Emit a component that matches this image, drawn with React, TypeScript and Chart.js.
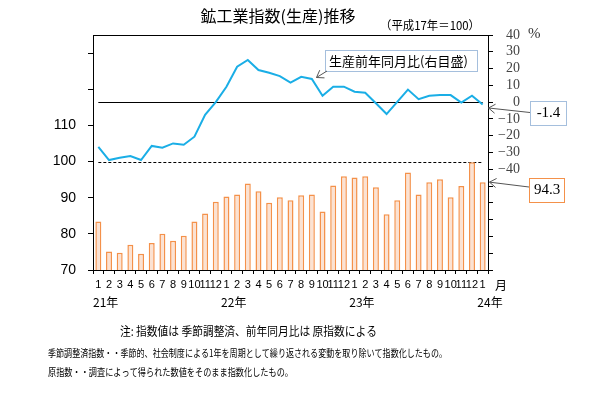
import React, { useEffect, useRef } from 'react';
import { Chart, registerables } from 'chart.js';

Chart.register(...registerables);

// ---- Data ----
const monthLabels = [
  '1', '2', '3', '4', '5', '6', '7', '8', '9', '10', '11', '12',
  '1', '2', '3', '4', '5', '6', '7', '8', '9', '10', '11', '12',
  '1', '2', '3', '4', '5', '6', '7', '8', '9', '10', '11', '12',
  '1',
];
const yearLabels = ['21年', '22年', '23年', '24年'];
const yearStartIndex = [0, 12, 24, 36];

// 鉱工業生産指数 (季節調整済, 平成17年=100) - left axis
const productionIndex = [
  83.4, 75.1, 74.8, 77.0, 74.5, 77.5, 80.0, 78.1, 79.5, 83.4, 85.6, 88.9,
  90.3, 90.9, 93.9, 91.8, 88.6, 90.1, 89.3, 90.7, 90.9, 86.2, 93.4, 95.9,
  95.6, 95.9, 92.9, 85.4, 89.3, 97.0, 90.9, 94.3, 95.1, 90.1, 93.2, 99.8,
  94.3,
];

// 生産前年同月比 (%) - right axis
const yoyChange = [
  -26.7, -34.5, -33.1, -32.1, -34.5, -26.1, -27.2, -24.6, -25.4, -20.6, -7.5, 0.0,
  9.2, 21.1, 25.1, 19.1, 17.5, 15.5, 11.6, 15.1, 13.8, 3.8, 9.2, 9.2,
  6.2, 5.6, -0.7, -7.1, 0.2, 7.5, 1.8, 3.8, 4.2, 4.2, -0.3, 3.8,
  -1.4,
];

const baseIndexValue = 100; // 平成17年 = 100 (dashed reference)
const zeroChange = 0; // 0% reference line

const titleText = '鉱工業指数(生産)推移';
const subTitleText = '（平成17年＝100）';
const legendText = '生産前年同月比(右目盛)';
const noteLine1 = '注: 指数値は 季節調整済、前年同月比は 原指数による';
const noteLine2 = '季節調整済指数・・季節的、社会制度による1年を周期として繰り返される変動を取り除いて指数化したもの。';
const noteLine3 = '原指数・・調査によって得られた数値をそのまま指数化したもの。';

const CJK = '"Noto Sans CJK JP", "Noto Sans", sans-serif';
const SERIF = '"Liberation Serif", "DejaVu Serif", serif';
const SANS = '"Liberation Sans", Arial, sans-serif';

const LINE_COLOR = '#1AAEE6';
const BAR_BORDER = '#F4914A';
const BAR_FILL = '#FBE2D3';
const BOX_BLUE = '#4A7EBB';

function drawArrow(ctx: CanvasRenderingContext2D, fx: number, fy: number, tx: number, ty: number) {
  const ang = Math.atan2(ty - fy, tx - fx);
  const len = 8;
  ctx.save();
  ctx.strokeStyle = '#555';
  ctx.lineWidth = 1;
  ctx.beginPath();
  ctx.moveTo(fx, fy);
  ctx.lineTo(tx, ty);
  ctx.moveTo(tx - len * Math.cos(ang - 0.6), ty - len * Math.sin(ang - 0.6));
  ctx.lineTo(tx, ty);
  ctx.lineTo(tx - len * Math.cos(ang + 0.6), ty - len * Math.sin(ang + 0.6));
  ctx.stroke();
  ctx.restore();
}

function drawBox(ctx: CanvasRenderingContext2D, x: number, y: number, w: number, h: number, color: string, dotted: boolean) {
  ctx.save();
  ctx.fillStyle = '#fff';
  ctx.fillRect(x, y, w, h);
  ctx.strokeStyle = color;
  ctx.lineWidth = 1;
  if (dotted) ctx.setLineDash([1, 1]);
  ctx.strokeRect(x + 0.5, y + 0.5, w, h);
  ctx.restore();
}

const overlayPlugin = {
  id: 'overlay',
  beforeDatasetsDraw(chart: any) {
    const { ctx, scales } = chart;
    const xs = scales.x;
    const xStart = xs.getPixelForValue(0);
    const xEnd = xs.getPixelForValue(monthLabels.length - 1);
    ctx.save();
    ctx.strokeStyle = '#000';
    ctx.lineWidth = 1;
    const yZero = Math.round(scales.y1.getPixelForValue(zeroChange)) + 0.5;
    ctx.beginPath();
    ctx.moveTo(xStart, yZero);
    ctx.lineTo(xEnd, yZero);
    ctx.stroke();
    const yBase = Math.round(scales.y.getPixelForValue(baseIndexValue)) + 0.5;
    ctx.setLineDash([3, 2]);
    ctx.beginPath();
    ctx.moveTo(xStart, yBase);
    ctx.lineTo(xEnd, yBase);
    ctx.stroke();
    ctx.restore();
  },
  afterDraw(chart: any) {
    const { ctx, chartArea, scales } = chart;
    const xs = scales.x;
    ctx.save();
    // top border of plot area
    ctx.strokeStyle = '#000';
    ctx.lineWidth = 1;
    ctx.beginPath();
    ctx.moveTo(chartArea.left, Math.round(chartArea.top) + 0.5);
    ctx.lineTo(chartArea.right + 1, Math.round(chartArea.top) + 0.5);
    ctx.stroke();

    ctx.fillStyle = '#000';
    ctx.textBaseline = 'middle';

    // title
    ctx.font = `16px ${CJK}`;
    ctx.textAlign = 'center';
    ctx.fillText(titleText, 278, 16);
    ctx.font = `12px ${CJK}`;
    ctx.textAlign = 'left';
    ctx.fillText(subTitleText, 380, 25, 100);

    // % unit
    ctx.font = `15px ${SERIF}`;
    ctx.fillStyle = '#333';
    ctx.fillText('%', 528, 34);

    // 月 and year labels
    ctx.fillStyle = '#000';
    ctx.font = `12px ${CJK}`;
    ctx.fillText('月', 495, 285);
    const half = (xs.getPixelForValue(1) - xs.getPixelForValue(0)) / 2;
    yearLabels.forEach((t, i) => {
      const px = xs.getPixelForValue(yearStartIndex[i]) - half;
      ctx.fillText(t, px, 302);
    });

    // legend box
    drawBox(ctx, 325, 50, 152, 21, BOX_BLUE, true);
    ctx.fillStyle = '#000';
    ctx.font = `13px ${CJK}`;
    ctx.fillText(legendText, 329, 61, 142);
    drawArrow(ctx, 327, 71, 316.5, 77.5);

    // last value callouts
    const lastIdx = monthLabels.length - 1;
    const lastYoy = yoyChange[lastIdx];
    const lastIdxVal = productionIndex[lastIdx];
    const axisX = chartArea.right;

    drawBox(ctx, 530, 101, 36, 24, BOX_BLUE, true);
    ctx.fillStyle = '#000';
    ctx.font = `15px ${SERIF}`;
    ctx.textAlign = 'center';
    ctx.fillText(lastYoy.toFixed(1), 548.5, 113.5);
    drawArrow(ctx, 530, 112.5, axisX + 0.5, scales.y1.getPixelForValue(lastYoy) + 3.5);

    drawBox(ctx, 529, 178, 35, 24, BAR_BORDER, false);
    ctx.fillStyle = '#000';
    ctx.fillText(lastIdxVal.toFixed(1), 547, 190.5);
    drawArrow(ctx, 529, 187, axisX + 1.5, scales.y.getPixelForValue(lastIdxVal));

    // notes
    ctx.textAlign = 'left';
    ctx.font = `12px ${CJK}`;
    ctx.fillText(noteLine1, 120, 331, 257);
    ctx.font = `10px ${CJK}`;
    ctx.fillText(noteLine2, 48, 353, 399);
    ctx.fillText(noteLine3, 48, 372, 245);
    ctx.restore();
  },
};

export default function App() {
  const canvasRef = useRef<HTMLCanvasElement | null>(null);

  useEffect(() => {
    const canvas = canvasRef.current;
    if (!canvas) return;
    const chart = new Chart(canvas, {
      type: 'bar',
      data: {
        labels: monthLabels,
        datasets: [
          {
            type: 'line',
            label: '生産前年同月比',
            data: yoyChange,
            yAxisID: 'y1',
            borderColor: LINE_COLOR,
            borderWidth: 2,
            pointRadius: 0,
            tension: 0,
            order: 0,
          } as any,
          {
            type: 'bar',
            label: '生産指数',
            data: productionIndex,
            yAxisID: 'y',
            backgroundColor: BAR_FILL,
            borderColor: BAR_BORDER,
            borderWidth: 1.5,
            barPercentage: 0.56,
            categoryPercentage: 1,
            order: 1,
          },
        ],
      },
      options: {
        responsive: false,
        animation: false,
        devicePixelRatio: 1,
        layout: { padding: { top: 35, left: 0, right: 85, bottom: 0 } },
        plugins: {
          legend: { display: false },
          tooltip: { enabled: false },
          title: { display: false },
        },
        scales: {
          x: {
            offset: true,
            grid: { offset: true, drawOnChartArea: false, drawTicks: true, tickLength: 4, color: '#000' },
            border: { display: true, color: '#000' },
            ticks: {
              autoSkip: false,
              maxRotation: 0,
              minRotation: 0,
              padding: 4,
              color: '#000',
              font: { family: SANS, size: 11 },
            },
            afterFit: (s: any) => { s.height = 126; },
          },
          y: {
            position: 'left',
            min: 70,
            max: 135,
            ticks: {
              stepSize: 10,
              autoSkip: false,
              includeBounds: false,
              padding: 12,
              color: '#000',
              font: { family: SANS, size: 14 },
              callback: (v: any) => (Number(v) <= 110 ? String(v) : ''),
            },
            grid: { drawOnChartArea: false, drawTicks: true, tickLength: 5, color: '#000' },
            border: { display: true, color: '#000' },
            afterFit: (s: any) => { s.width = 93; },
          },
          y1: {
            position: 'right',
            min: -100,
            max: 40,
            ticks: {
              stepSize: 10,
              autoSkip: false,
              padding: 5,
              crossAlign: 'far',
              color: '#444',
              font: { family: SERIF, size: 14 },
              callback: (v: any) => {
                const n = Number(v);
                if (n < -40) return '';
                return n < 0 ? '−' + Math.abs(n) : String(n);
              },
            },
            grid: { drawOnChartArea: false, drawTicks: true, tickLength: 5, color: '#000' },
            border: { display: true, color: '#000' },
            afterFit: (s: any) => { s.width = 32; },
          },
        },
      } as any,
      plugins: [overlayPlugin],
    });
    return () => chart.destroy();
  }, []);

  return (
    <div style={{ position: 'fixed', left: 0, top: 0, width: 605, height: 396, background: '#fff' }}>
      <canvas ref={canvasRef} width={605} height={396} style={{ display: 'block', width: 605, height: 396 }} />
    </div>
  );
}
